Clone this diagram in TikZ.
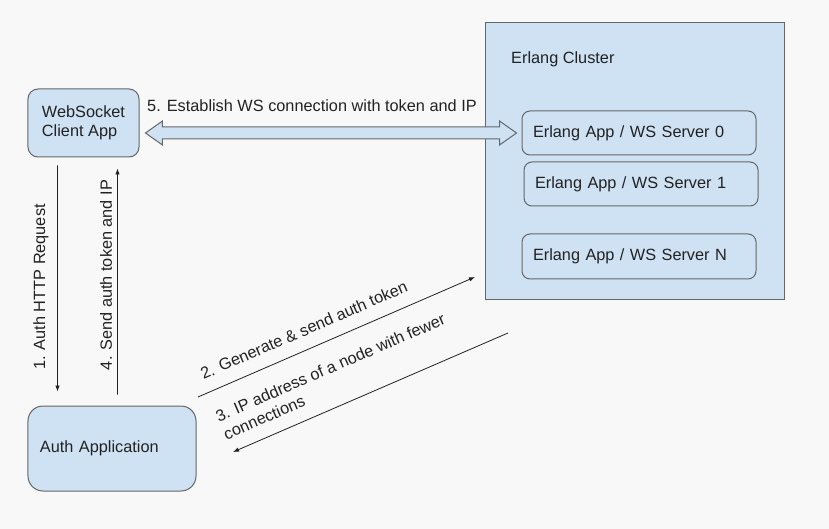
\documentclass[tikz,border=0pt]{standalone}
\usepackage{fontspec}
\setmainfont{Liberation Sans}
\usetikzlibrary{arrows.meta,calc}
\definecolor{boxblue}{HTML}{CFE2F3}
\definecolor{boxline}{HTML}{666666}
\definecolor{pagebg}{HTML}{F8F8F8}
\definecolor{txt}{HTML}{222222}

\begin{document}
\begin{tikzpicture}[x=1bp,y=-1bp,
  every node/.style={font=\fontsize{16.3bp}{19.5bp}\selectfont, text=txt},
  >={Latex[length=6bp,width=4.5bp]},
  appbox/.style={draw=boxline, fill=boxblue, line width=1bp, align=left},
  srvbox/.style={appbox, rounded corners=8bp, minimum width=234bp, minimum height=44bp, text width=212bp, inner xsep=11bp},
  msg/.style={inner sep=2bp},
  flow/.style={draw=txt, line width=0.8bp},
  wsarrow/.style={draw=boxline, fill=boxblue, line width=1bp}]
\fill[pagebg] (0,0) rectangle (829,529);
\useasboundingbox (0,0) rectangle (829,529);

\node[draw=boxline, fill=boxblue, line width=1bp, minimum width=299bp, minimum height=276bp] (cluster) at (634.5,161) {};
\node[msg, anchor=base west] (clusterlbl) at (509,64) {Erlang Cluster};
\node[srvbox] (s0) at (639,133) {Erlang App / WS Server 0};
\node[srvbox] (s1) at (641,184) {Erlang App / WS Server 1};
\node[srvbox, minimum height=45bp] (sN) at (639,256.5) {Erlang App / WS Server N};

\node[appbox, rounded corners=10bp, minimum width=111bp, minimum height=68bp] (ws) at (83.5,123) {WebSocket\\Client App};
\node[appbox, rounded corners=15bp, minimum width=168bp, minimum height=85bp, text width=144bp, inner xsep=12bp] (auth) at (112,448.5) {Auth Application};

\coordinate (wsl) at ([xshift=6]ws.east |- s0.west);
\coordinate (wsr) at ([xshift=-5]s0.west);
\draw[wsarrow] (wsl) -- ++(17,-12) -- ++(0,6) -- ($(wsr)+(-17,-6)$) -- ++(0,-6) -- (wsr)
  -- ++(-17,12) -- ++(0,-6) -- ($(wsl)+(17,6)$) -- ++(0,6) -- cycle;
\node[msg, anchor=base west] (lbl5) at (145,112) {5. Establish WS connection with token and IP};

\draw[flow,->] ([shift={(30,8)}]ws.south west) -- ([shift={(30,-14)}]auth.north west);
\node[msg, rotate=90] (lbl1) at (41,287) {1. Auth HTTP Request};
\draw[flow,->] ([shift={(90,-11)}]auth.north west) -- ([shift={(90,11)}]ws.south west);
\node[msg, rotate=90] (lbl4) at (106,275) {4. Send auth token and IP};

\coordinate (genout) at (198,397);
\coordinate (tokin) at (475,277);
\coordinate (ipfrom) at (508,333);
\coordinate (ipto) at (233,452);
\draw[flow,->] (genout) -- node[msg, pos=.41, sloped, above=11bp] (lbl2) {2. Generate \& send auth token} (tokin);
\draw[flow,<-] (ipto) -- node[msg, pos=.41, sloped, above=11bp, align=left] (lbl3) {3. IP address of a node with fewer\\connections} (ipfrom);
\end{tikzpicture}
\end{document}
